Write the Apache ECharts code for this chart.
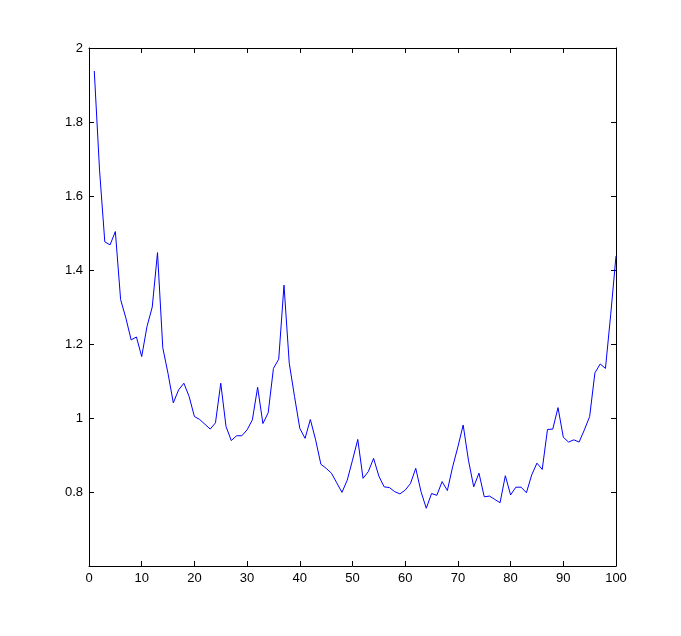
<!DOCTYPE html>
<html>
<head>
<meta charset="utf-8">
<script src="https://cdn.jsdelivr.net/npm/echarts@6/dist/echarts.min.js"></script>
<style>
  html, body { margin: 0; padding: 0; background: #fff; }
  #main { width: 681px; height: 636px; }
</style>
</head>
<body>
<div id="main"></div>
<script>
// values, one per sample index 1..100
const yValues = [
  1.938, 1.67, 1.476, 1.468, 1.504, 1.32, 1.27, 1.211, 1.219, 1.166,
  1.247, 1.30, 1.447, 1.19, 1.12, 1.041, 1.076, 1.094, 1.058, 1.004,
  0.996, 0.983, 0.970, 0.987, 1.094, 0.977, 0.939, 0.952, 0.952, 0.968,
  0.995, 1.083, 0.985, 1.014, 1.134, 1.159, 1.359, 1.148, 1.058, 0.972,
  0.945, 0.996, 0.941, 0.875, 0.864, 0.851, 0.825, 0.799, 0.832, 0.886,
  0.942, 0.837, 0.855, 0.891, 0.843, 0.814, 0.812, 0.801, 0.795, 0.805,
  0.823, 0.864, 0.801, 0.756, 0.796, 0.791, 0.828, 0.804, 0.868, 0.922,
  0.981, 0.886, 0.814, 0.851, 0.787, 0.789, 0.780, 0.771, 0.844, 0.792,
  0.813, 0.813, 0.798, 0.846, 0.878, 0.861, 0.969, 0.970, 1.028, 0.948,
  0.935, 0.941, 0.935, 0.968, 1.004, 1.122, 1.146, 1.134, 1.28, 1.438
];
const xTicks = [0, 10, 20, 30, 40, 50, 60, 70, 80, 90, 100];
const yTicks = [0.6, 0.8, 1, 1.2, 1.4, 1.6, 1.8, 2];

const chart = echarts.init(document.getElementById('main'));
const font = { color: '#000', fontSize: 13, fontFamily: 'Liberation Sans, Arial, sans-serif' };
const lineBlack = { lineStyle: { color: '#000', width: 1 } };

function xAxisDef(pos, labels) {
  return {
    type: 'value', position: pos,
    min: xTicks[0], max: xTicks[xTicks.length - 1], interval: 10,
    axisLine: { show: true, onZero: false, ...lineBlack },
    axisTick: { show: true, inside: true, length: 5, ...lineBlack },
    axisLabel: { show: labels, margin: 6, ...font },
    splitLine: { show: false }
  };
}
function yAxisDef(pos, labels) {
  return {
    type: 'value', position: pos,
    min: yTicks[0], max: yTicks[yTicks.length - 1], interval: 0.2,
    axisLine: { show: true, onZero: false, ...lineBlack },
    axisTick: { show: true, inside: true, length: 5, ...lineBlack },
    axisLabel: {
      show: labels, margin: 6, showMinLabel: false, ...font,
      formatter: v => String(Math.round(v * 10) / 10)
    },
    splitLine: { show: false }
  };
}

const option = {
  backgroundColor: '#fff',
  animation: false,
  grid: { left: 89, top: 48, width: 527, height: 518, containLabel: false },
  xAxis: [xAxisDef('bottom', true), xAxisDef('top', false)],
  yAxis: [yAxisDef('left', true), yAxisDef('right', false)],
  series: [{
    type: 'line',
    data: yValues.map((v, i) => [i + 1, v]),
    showSymbol: false,
    lineStyle: { color: '#0000ff', width: 1 },
    itemStyle: { color: '#0000ff' }
  }]
};
chart.setOption(option);
</script>
</body>
</html>
